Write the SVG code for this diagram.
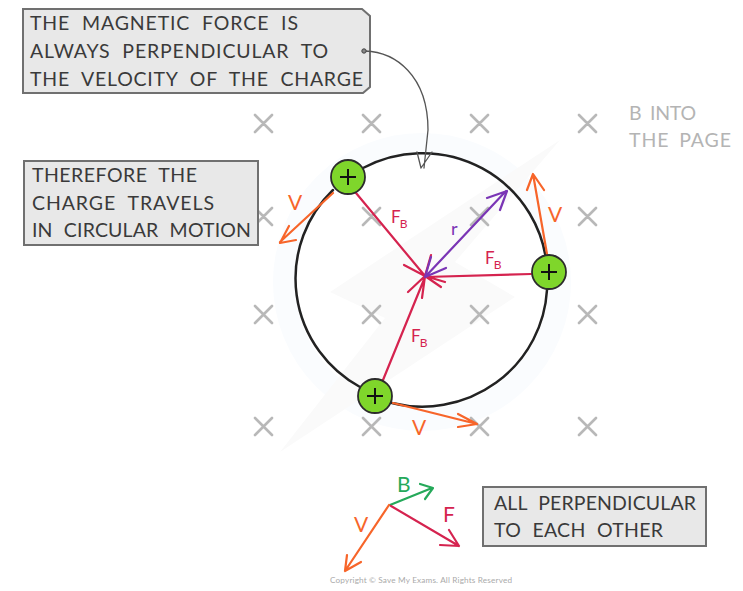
<svg xmlns="http://www.w3.org/2000/svg" width="743" height="591" viewBox="0 0 743 591">
<style>
text{font-family:"Lato","Noto Sans","Liberation Sans",sans-serif}
.box{fill:#e8e8e8;stroke:#707070;stroke-width:2}
.t{font-size:19.5px;fill:#3a3a3a;word-spacing:6px}
.g{font-size:19.5px;fill:#b4b4b4;word-spacing:4px}
.x{stroke:#b8b8b8;stroke-width:2.6;stroke-linecap:round;fill:none}
.ch{fill:#7fd62b;stroke:#2c2c2c;stroke-width:1.8}
.pl{stroke:#111;stroke-width:2;fill:none}
.l{fill:none;stroke-linecap:round;stroke-linejoin:round}
.or{stroke:#f7652a;stroke-width:2.2}
.rd{stroke:#d5234f;stroke-width:2.2}
.pu{stroke:#7a35b5;stroke-width:2.2}
.gr{stroke:#25a95a;stroke-width:2.2}
.lo{font-size:21px;fill:#f7652a}
.lr{font-size:17px;fill:#d5234f}
.sub{font-size:12px;fill:#d5234f}
</style>
<rect width="743" height="591" fill="#fff"/>
<g id="watermark">
<circle cx="422" cy="282" r="138" fill="none" stroke="#fafcfe" stroke-width="22"/>
<path d="M330 292L560 140L455 262L515 297L280 452L385 318Z" fill="#fafafa"/>
</g>
<g id="field">
<path class="x" d="M255 115l17 17m0-17l-17 17M363 115l17 17m0-17l-17 17M471 115l17 17m0-17l-17 17M579 115l17 17m0-17l-17 17M255 208l17 17m0-17l-17 17M363 208l17 17m0-17l-17 17M471 208l17 17m0-17l-17 17M579 208l17 17m0-17l-17 17M255 306l17 17m0-17l-17 17M363 306l17 17m0-17l-17 17M471 306l17 17m0-17l-17 17M579 306l17 17m0-17l-17 17M255 418l17 17m0-17l-17 17M363 418l17 17m0-17l-17 17M471 418l17 17m0-17l-17 17M579 418l17 17m0-17l-17 17"/>
</g>
<g id="box-force">
<path class="box" d="M23 9H362L370 16V87L363 93H23Z"/>
<text class="t" x="30" y="30" textLength="268">THE MAGNETIC FORCE IS</text>
<text class="t" x="30" y="58" textLength="298">ALWAYS PERPENDICULAR TO</text>
<text class="t" x="30" y="86" textLength="333">THE VELOCITY OF THE CHARGE</text>
</g>
<g id="box-circular">
<rect class="box" x="24" y="161" width="234" height="84"/>
<text class="t" x="32" y="182" textLength="165">THEREFORE THE</text>
<text class="t" x="32" y="210" textLength="182">CHARGE TRAVELS</text>
<text class="t" x="32" y="237" textLength="219">IN CIRCULAR MOTION</text>
</g>
<g id="box-perpendicular">
<rect class="box" x="483" y="487" width="223" height="59"/>
<text class="t" x="494" y="510" textLength="202">ALL PERPENDICULAR</text>
<text class="t" x="494" y="537" textLength="169">TO EACH OTHER</text>
</g>
<g id="label-field">
<text class="g" x="629" y="120" textLength="67">B INTO</text>
<text class="g" x="629" y="147" textLength="102">THE PAGE</text>
</g>
<g id="connectors">
<path class="l" stroke="#222" stroke-width="2.5" d="M363 168A125 124 0 0 1 547 268M547 290A125 124 0 0 1 392 403M360 387A125 124 0 0 1 333 190"/>
<path class="l" stroke="#555" stroke-width="1.3" d="M365 51C395 52 428 75 428 130L424 168M417 152L421 168L432 152"/>
<circle cx="364" cy="51" r="2.2" fill="#888" stroke="#444" stroke-width="1"/>
<path class="l rd" d="M356 193L425 276M531 274L425 277M383 380L425 277M425 276L404 265M425 276L431 255M425 276L445 282M425 276L441 287M425 276L408 292M425 276L422 298"/>
<path class="l pu" d="M425 277L506 191M487 198L507 191L500 210M431 257L425 277L446 268"/>
<path class="l or" d="M333 193L280 242M296 240L280 243L289 226M547 254L533 174M527 190L533 174L544 190M393 403L477 424M458 414L477 424L458 427"/>
<path class="l gr" d="M390 505L432 488M420 484L433 488L425 499"/>
<path class="l or" d="M389 505L345 571M347 555L345 571L361 562"/>
<path class="l rd" d="M391 506L459 546M440 545L459 546L449 530"/>
</g>
<g id="charge-1"><circle class="ch" cx="348" cy="177" r="17"/><path class="pl" d="M340 177H356M348 169V185"/></g>
<g id="charge-2"><circle class="ch" cx="549" cy="272" r="17"/><path class="pl" d="M541 272H557M549 264V280"/></g>
<g id="charge-3"><circle class="ch" cx="375" cy="396" r="17"/><path class="pl" d="M367 396H383M375 388V404"/></g>
<g id="labels">
<text class="lo" x="288" y="210">V</text>
<text class="lo" x="548" y="222">V</text>
<text class="lo" x="412" y="435">V</text>
<text class="lr" x="391" y="223">F<tspan class="sub" dy="5" dx="-1">B</tspan></text>
<text class="lr" x="485" y="264">F<tspan class="sub" dy="5" dx="-1">B</tspan></text>
<text class="lr" x="411" y="342">F<tspan class="sub" dy="5" dx="-1">B</tspan></text>
<text x="451" y="235" font-size="18" fill="#7a35b5">r</text>
<text x="397" y="492" font-size="21" fill="#25a95a">B</text>
<text x="443" y="522" font-size="21" fill="#d5234f">F</text>
<text class="lo" x="354" y="532">V</text>
</g>
<text id="copyright" x="330" y="583" font-size="8.2" fill="#aaa" textLength="182">Copyright © Save My Exams. All Rights Reserved</text>
</svg>
